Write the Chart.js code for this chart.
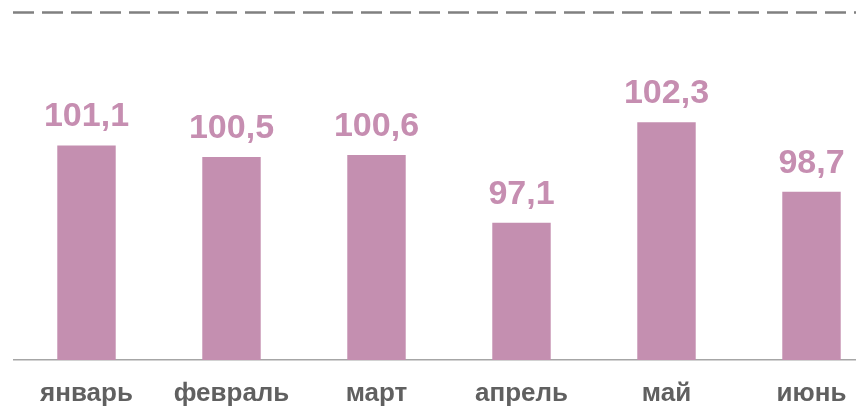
<!DOCTYPE html>
<html>
<head>
<meta charset="utf-8">
<script src="https://cdn.jsdelivr.net/npm/chart.js@4/dist/chart.umd.min.js"></script>
<style>
html,body{margin:0;padding:0;background:#fff;overflow:hidden;width:856px;height:406px;}
#wrap{position:absolute;left:0;top:0;width:900px;height:406px;}
</style>
</head>
<body>
<div id="wrap"><canvas id="c" width="900" height="406"></canvas></div>
<script>
const categories = ['январь','февраль','март','апрель','май','июнь'];
const values = [101.1, 100.5, 100.6, 97.1, 102.3, 98.7];
const axisMin = 90;
const refLine = 108;

const labelPlugin = {
  id: 'labels',
  afterDatasetsDraw(chart) {
    const ctx = chart.ctx;
    const meta = chart.getDatasetMeta(0);
    ctx.save();
    ctx.font = 'bold 34px "Liberation Sans", Arial, sans-serif';
    ctx.fillStyle = '#C68EB1';
    ctx.textAlign = 'center';
    ctx.textBaseline = 'alphabetic';
    meta.data.forEach((bar, i) => {
      ctx.fillText(values[i].toFixed(1).replace('.', ','), bar.x, bar.y - 19);
    });
    ctx.restore();
  }
};

const dashPlugin = {
  id: 'dash',
  beforeDatasetsDraw(chart) {
    const ctx = chart.ctx;
    const y = Math.round(chart.scales.y.getPixelForValue(refLine)) + 0.5;
    ctx.save();
    ctx.strokeStyle = '#808080';
    ctx.lineWidth = 2.5;
    ctx.setLineDash([21, 8]);
    ctx.beginPath();
    ctx.moveTo(chart.chartArea.left - 1, y);
    ctx.lineTo(chart.chartArea.right, y);
    ctx.stroke();
    ctx.restore();
  }
};

new Chart(document.getElementById('c'), {
  type: 'bar',
  data: {
    labels: categories,
    datasets: [{
      data: values,
      backgroundColor: '#C48FB0',
      borderWidth: 0,
      categoryPercentage: 1,
      barPercentage: 0.403
    }]
  },
  options: {
    responsive: false,
    animation: false,
    layout: { padding: { left: 14, right: 16, top: 12, bottom: 0 } },
    plugins: { legend: { display: false }, tooltip: { enabled: false } },
    scales: {
      x: {
        afterFit(scale) { scale.height = 46; },
        grid: { display: false, drawTicks: false, tickLength: 0 },
        border: { display: true, color: '#A6A6A6', width: 1.5 },
        ticks: {
          padding: 18,
          color: '#606060',
          font: { family: '"Liberation Sans", Arial, sans-serif', size: 26, weight: 'bold' }
        }
      },
      y: {
        display: false,
        min: axisMin,
        max: refLine
      }
    }
  },
  plugins: [dashPlugin, labelPlugin]
});
</script>
</body>
</html>
